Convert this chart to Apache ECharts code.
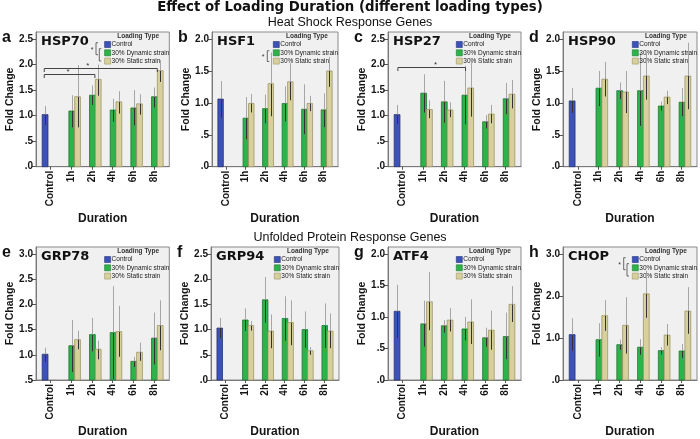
<!DOCTYPE html>
<html><head><meta charset="utf-8">
<script src="https://cdn.jsdelivr.net/npm/echarts@6/dist/echarts.min.js"></script>
<style>html,body{margin:0;padding:0;background:#fff}#c{width:700px;height:439px}</style>
</head><body><div id="c"></div><script>
// ---------------- data ----------------
const categories = ['Control', '1h', '2h', '4h', '6h', '8h'];
const seriesNames = ['Control', '30% Dynamic strain', '30% Static strain'];
const genes = ['HSP70', 'HSF1', 'HSP27', 'HSP90', 'GRP78', 'GRP94', 'ATF4', 'CHOP'];
const panelLetters = ['a', 'b', 'c', 'd', 'e', 'f', 'g', 'h'];
const yMins = [0, 0, 0, 0, 0.5, 0, 0, 0];
const yTickMaxes = [2.5, 2.0, 2.5, 2.0, 3.0, 2.5, 2.0, 3.0];
const yIntervals = [0.5, 0.5, 0.5, 0.5, 0.5, 0.5, 0.5, 1.0];

// control mean and 95% CI per gene
const controlMean = [1.02, 1.06, 1.02, 1.03, 1.01, 1.03, 1.09, 1.08];
const controlLow  = [0.82, 0.77, 0.83, 0.84, 0.86, 0.83, 0.67, 0.70];
const controlHigh = [1.19, 1.34, 1.21, 1.23, 1.14, 1.23, 1.51, 1.47];

// dynamic / static strain, values for 1h, 2h, 4h, 6h, 8h
const HSP70_dyn = [1.09, 1.40, 1.11, 1.15, 1.37];
const HSP70_dynLow = [0.77, 1.21, 0.88, 0.81, 1.16];
const HSP70_dynHigh = [1.40, 1.59, 1.33, 1.50, 1.55];
const HSP70_sta = [1.37, 1.71, 1.27, 1.23, 1.88];
const HSP70_staLow = [0.77, 1.39, 1.04, 1.02, 1.66];
const HSP70_staHigh = [1.99, 2.00, 1.48, 1.42, 2.09];

const HSF1_dyn = [0.76, 0.91, 0.99, 0.90, 0.89];
const HSF1_dynLow = [0.43, 0.68, 0.71, 0.51, 0.62];
const HSF1_dynHigh = [1.09, 1.13, 1.26, 1.29, 1.15];
const HSF1_sta = [0.99, 1.30, 1.33, 0.99, 1.50];
const HSF1_staLow = [0.85, 0.79, 1.04, 0.87, 1.25];
const HSF1_staHigh = [1.14, 1.79, 1.62, 1.11, 1.72];

const HSP27_dyn = [1.44, 1.27, 1.40, 0.88, 1.33];
const HSP27_dynLow = [1.06, 0.86, 0.83, 0.75, 1.03];
const HSP27_dynHigh = [1.81, 1.68, 1.98, 1.01, 1.64];
const HSP27_sta = [1.12, 1.11, 1.54, 1.03, 1.42];
const HSP27_staLow = [0.95, 0.97, 0.98, 0.85, 1.14];
const HSP27_staHigh = [1.30, 1.26, 2.12, 1.21, 1.70];

const HSP90_dyn = [1.23, 1.19, 1.19, 0.95, 1.01];
const HSP90_dynLow = [0.95, 1.06, 0.64, 0.88, 0.79];
const HSP90_dynHigh = [1.50, 1.32, 1.78, 1.02, 1.23];
const HSP90_sta = [1.37, 1.17, 1.42, 1.09, 1.42];
const HSP90_staLow = [1.10, 0.84, 1.05, 0.98, 0.90];
const HSP90_staHigh = [1.64, 1.50, 1.79, 1.19, 1.94];

const GRP78_dyn = [1.18, 1.40, 1.44, 0.87, 1.33];
const GRP78_dynLow = [0.66, 1.07, 0.52, 0.76, 0.81];
const GRP78_dynHigh = [1.69, 1.73, 2.36, 0.96, 1.84];
const GRP78_sta = [1.30, 1.11, 1.46, 1.05, 1.58];
const GRP78_staLow = [1.11, 0.91, 0.96, 0.88, 1.09];
const GRP78_staHigh = [1.48, 1.28, 1.97, 1.24, 2.08];

const GRP94_dyn = [1.19, 1.59, 1.22, 1.00, 1.08];
const GRP94_dynLow = [0.97, 1.14, 0.78, 0.64, 0.64];
const GRP94_dynHigh = [1.42, 2.04, 1.66, 1.36, 1.52];
const GRP94_sta = [1.08, 0.97, 1.14, 0.58, 0.97];
const GRP94_staLow = [0.98, 0.63, 0.69, 0.50, 0.63];
const GRP94_staHigh = [1.17, 1.30, 1.58, 0.65, 1.32];

const ATF4_dyn = [0.89, 0.86, 0.81, 0.67, 0.69];
const ATF4_dynLow = [0.53, 0.75, 0.63, 0.53, 0.33];
const ATF4_dynHigh = [1.26, 0.95, 1.00, 0.83, 1.07];
const ATF4_sta = [1.24, 0.95, 0.92, 0.79, 1.20];
const ATF4_staLow = [0.79, 0.77, 0.57, 0.48, 0.92];
const ATF4_staHigh = [1.71, 1.14, 1.28, 1.10, 1.49];

const CHOP_dyn = [0.96, 0.84, 0.78, 0.70, 0.69];
const CHOP_dynLow = [0.56, 0.72, 0.60, 0.61, 0.52];
const CHOP_dynHigh = [1.35, 0.96, 0.97, 0.78, 0.86];
const CHOP_sta = [1.53, 1.30, 2.05, 1.07, 1.64];
const CHOP_staLow = [1.17, 0.63, 1.48, 0.82, 1.10];
const CHOP_staHigh = [1.90, 1.97, 2.60, 1.33, 2.21];

// significance brackets
const sigPanel = [0, 0, 2];
const sigFrom = [-0.31, -0.31, -0.23];
const sigTo = [2.14, 5.16, 3.05];
const sigY = [1.81, 1.94, 1.96];
const sigStar = [0.84, 1.8, 1.6];

const dynGroups = [
  [HSP70_dyn, HSP70_dynLow, HSP70_dynHigh, HSP70_sta, HSP70_staLow, HSP70_staHigh],
  [HSF1_dyn, HSF1_dynLow, HSF1_dynHigh, HSF1_sta, HSF1_staLow, HSF1_staHigh],
  [HSP27_dyn, HSP27_dynLow, HSP27_dynHigh, HSP27_sta, HSP27_staLow, HSP27_staHigh],
  [HSP90_dyn, HSP90_dynLow, HSP90_dynHigh, HSP90_sta, HSP90_staLow, HSP90_staHigh],
  [GRP78_dyn, GRP78_dynLow, GRP78_dynHigh, GRP78_sta, GRP78_staLow, GRP78_staHigh],
  [GRP94_dyn, GRP94_dynLow, GRP94_dynHigh, GRP94_sta, GRP94_staLow, GRP94_staHigh],
  [ATF4_dyn, ATF4_dynLow, ATF4_dynHigh, ATF4_sta, ATF4_staLow, ATF4_staHigh],
  [CHOP_dyn, CHOP_dynLow, CHOP_dynHigh, CHOP_sta, CHOP_staLow, CHOP_staHigh]
];

// ---------------- layout / style ----------------
const frames = [
  [36, 32, 133.3, 134.7], [212, 32, 126, 134.7], [388, 32, 133, 134.7], [563, 32, 134, 134.7],
  [36, 247, 133.3, 134.7], [211, 247, 128, 134.7], [388, 247, 133, 134.7], [563, 247, 134, 134.7]
];
const COLORS = ['#3d52b8', '#2eb24a', '#d8d09c'];
const BORDERS = ['#27347a', '#1d7a30', '#9e9668'];
const SLOT = [-0.27, 0.02, 0.30];
const BAR_W = 0.28;
const X_MIN = -0.71, X_MAX = 5.74;
const ARIAL = 'Liberation Sans, Arial, sans-serif';
const HEAVY = 'DejaVu Sans, sans-serif';

function fmtY(v) {
  if (Math.abs(v) < 1e-9) return '.0';
  if (v < 1) return '.' + String(Math.round(v * 10));
  return v.toFixed(1);
}
function ticks(min, max, step) {
  const out = [];
  for (let v = min; v <= max + 1e-9; v += step) out.push(Math.round(v * 100) / 100);
  return out;
}

function makeBarRender(slot, base) {
  return function (params, api) {
    const cx = api.value(0) + SLOT[slot];
    const mean = api.value(1), lo = api.value(2), hi = api.value(3);
    const tl = api.coord([cx - BAR_W / 2, mean]);
    const br = api.coord([cx + BAR_W / 2, base]);
    const cs = params.coordSys;
    const rect = echarts.graphic.clipRectByRect(
      { x: tl[0], y: tl[1], width: br[0] - tl[0], height: br[1] - tl[1] }, cs);
    const pLo = api.coord([cx, Math.max(lo, base)]);
    const pMean = api.coord([cx, mean]);
    const pHi = api.coord([cx, hi]);
    const xm = Math.round(pMean[0]) + 0.5;
    const children = [];
    if (rect) children.push({ type: 'rect', shape: rect,
      style: { fill: api.visual('color'), stroke: BORDERS[slot], lineWidth: 0.8 } });
    children.push({ type: 'line', shape: { x1: xm, y1: pLo[1], x2: xm, y2: pMean[1] },
      style: { stroke: '#333', lineWidth: 1 } });
    children.push({ type: 'line', shape: { x1: xm, y1: pMean[1], x2: xm, y2: Math.max(pHi[1], cs.y) },
      style: { stroke: '#a6a6a6', lineWidth: 1 } });
    return { type: 'group', children };
  };
}

function bracketRender(params, api) {
  const a = api.coord([api.value(0), api.value(2)]);
  const b = api.coord([api.value(1), api.value(2)]);
  const s = api.coord([api.value(3), api.value(2)]);
  const y = Math.round(a[1]) + 0.5;
  return { type: 'group', children: [
    { type: 'polyline', shape: { points: [[a[0], y + 3.5], [a[0], y], [b[0], y], [b[0], y + 3.5]] },
      style: { stroke: '#444', lineWidth: 1, fill: null } },
    { type: 'text', x: s[0], y: y + 1, style: { text: '*', fontSize: 8, fontFamily: ARIAL,
      align: 'center', verticalAlign: 'bottom', fill: '#333' } }
  ] };
}

const grid = [], xAxis = [], yAxis = [], series = [], legend = [], graphic = [];

frames.forEach((f, i) => {
  const [L, T, W, H] = f;
  const yMin = yMins[i];
  const tMax = yTickMaxes[i];
  const yTop = tMax + (tMax - yMin) * 7 / 127.7;
  const yt = ticks(yMin, tMax, yIntervals[i]);
  grid.push({ left: L, top: T, width: W, height: H, show: true, backgroundColor: '#f0f0f0',
    borderColor: '#8a8a8a', borderWidth: 1 });
  xAxis.push({ type: 'value', gridIndex: i, min: X_MIN, max: X_MAX,
    axisLine: { show: true, onZero: false, lineStyle: { color: '#7a7a7a' } },
    splitLine: { show: false },
    axisTick: { show: true, customValues: [0, 1, 2, 3, 4, 5], length: 3, lineStyle: { color: '#555' } },
    axisLabel: { customValues: [0, 1, 2, 3, 4, 5], rotate: 90, margin: 4,
      formatter: v => categories[Math.round(v)], fontWeight: 'bold', fontSize: 10,
      fontFamily: ARIAL, color: '#151515' },
    name: 'Duration', nameLocation: 'middle', nameGap: 46,
    nameTextStyle: { fontWeight: 'bold', fontSize: 12, fontFamily: ARIAL, color: '#151515' } });
  yAxis.push({ type: 'value', gridIndex: i, min: yMin, max: yTop,
    axisLine: { show: true, onZero: false, lineStyle: { color: '#7a7a7a' } },
    splitLine: { show: false },
    axisTick: { show: true, customValues: yt, length: 4, lineStyle: { color: '#555' } },
    axisLabel: { customValues: yt, formatter: fmtY, margin: 3, fontWeight: 'bold', fontSize: 10,
      fontFamily: ARIAL, color: '#151515' },
    name: 'Fold Change', nameLocation: 'middle', nameGap: 19,
    nameTextStyle: { fontWeight: 'bold', fontSize: 10.5, fontFamily: ARIAL, color: '#151515' } });

  const base = Math.max(0, yMin);
  const g = dynGroups[i];
  const ctrlData = [[0, controlMean[i], controlLow[i], controlHigh[i]]];
  const dynData = g[0].map((v, k) => [k + 1, v, g[1][k], g[2][k]]);
  const staData = g[3].map((v, k) => [k + 1, v, g[4][k], g[5][k]]);
  [ctrlData, dynData, staData].forEach((data, s) => {
    series.push({ type: 'custom', name: seriesNames[s], xAxisIndex: i, yAxisIndex: i,
      itemStyle: { color: COLORS[s], borderColor: BORDERS[s], borderWidth: 0.8 },
      renderItem: makeBarRender(s, base), data, silent: true, z: 2 + s });
  });
  const sig = [];
  sigPanel.forEach((p, k) => { if (p === i) sig.push([sigFrom[k], sigTo[k], sigY[k], sigStar[k]]); });
  if (sig.length) series.push({ type: 'custom', xAxisIndex: i, yAxisIndex: i,
    renderItem: bracketRender, data: sig, silent: true, z: 10 });

  const Lx = L + W - 65;
  legend.push({ orient: 'vertical', left: Lx, top: T + 9, itemWidth: 6, itemHeight: 6, itemGap: 1.3,
    padding: 0, icon: 'rect', data: seriesNames, selectedMode: false,
    itemStyle: { borderWidth: 0.6 },
    textStyle: { fontSize: 6.5, fontFamily: ARIAL, color: '#1a1a1a', lineHeight: 7, padding: [0, 0, 0, -4] } });

  graphic.push({ type: 'text', left: Lx + 13, top: T + 0.5,
    style: { text: 'Loading Type', fontSize: 6.5, fontWeight: 'bold', fontFamily: ARIAL, fill: '#333' } });
  graphic.push({ type: 'text', left: L + 5, top: T + 3,
    style: { text: genes[i], fontSize: 13, fontWeight: 'bold', fontFamily: HEAVY, fill: '#111' } });
  graphic.push({ type: 'text', left: L - 34, top: T - 2,
    style: { text: panelLetters[i], fontSize: 16, fontWeight: 'bold', fontFamily: ARIAL, fill: '#111' } });

  const r0 = T + 12.7, r1 = T + 20.2, r2 = T + 27.5;
  const br = (x, y1, y2) => ({ type: 'polyline', shape: { points: [[x + 2, y1], [x, y1], [x, y2], [x + 2, y2]] },
    style: { stroke: '#444', lineWidth: 0.8, fill: null } });
  const star = (x, y) => ({ type: 'text', x, y, style: { text: '*', fontSize: 7, fontFamily: ARIAL,
    align: 'center', verticalAlign: 'middle', fill: '#333' } });
  if (i === 0 || i === 7) {
    graphic.push(br(Lx - 8.3, r0 - 2, r1 + 2.5));
    graphic.push(br(Lx - 5, r1 - 3.5, r2 + 1.5));
    graphic.push(star(Lx - 12.3, (r0 + r1) / 2 + 2));
  }
  if (i === 1) {
    graphic.push(br(Lx - 5.7, r1 - 1.5, r2 + 2));
    graphic.push(star(Lx - 10, (r1 + r2) / 2 + 1));
  }
});

const title = [
  { text: 'Effect of Loading Duration (different loading types)', left: 'center', top: 1, padding: 0,
    textStyle: { fontSize: 13.3, fontWeight: 'bold', fontFamily: HEAVY, color: '#111' } },
  { text: 'Heat Shock Response Genes', left: 'center', top: 16, padding: 0,
    textStyle: { fontSize: 12.5, fontWeight: 'normal', fontFamily: ARIAL, color: '#111' } },
  { text: 'Unfolded Protein Response Genes', left: 'center', top: 231, padding: 0,
    textStyle: { fontSize: 12.5, fontWeight: 'normal', fontFamily: ARIAL, color: '#111' } }
];

const chart = echarts.init(document.getElementById('c'), null, { renderer: 'canvas' });
chart.setOption({ animation: false, backgroundColor: '#ffffff', title, grid, xAxis, yAxis, series, legend, graphic });
</script></body></html>
